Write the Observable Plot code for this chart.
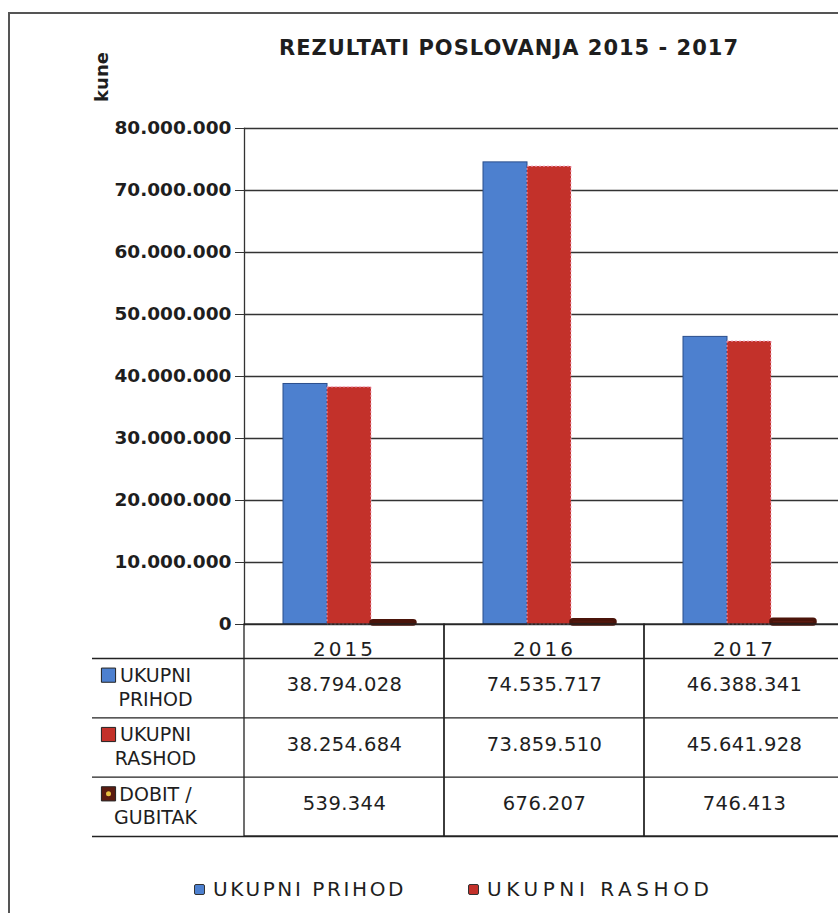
<!DOCTYPE html>
<html><head><meta charset="utf-8">
<script src="https://cdn.jsdelivr.net/npm/d3@7"></script>
<script src="https://cdn.jsdelivr.net/npm/@observablehq/plot@0.6"></script>
<style>
html,body{margin:0;padding:0;background:#fff;width:838px;height:913px;overflow:hidden;}
#wrap{position:relative;width:838px;height:913px;overflow:hidden;font-family:"DejaVu Sans",sans-serif;color:#1e1e1e;}
#border{position:absolute;left:8px;top:12px;width:1000px;height:1000px;border-left:2px solid #555;border-top:2px solid #555;}
#title{position:absolute;left:209px;top:36px;width:600px;text-align:center;font-weight:bold;font-size:21px;letter-spacing:1px;line-height:24px;}
#kune{position:absolute;left:101px;top:77px;transform:translate(-50%,-50%) rotate(-90deg);font-weight:bold;font-size:18px;}
#chart,#table{position:absolute;left:0;}
#chart{top:0;} #table{top:624px;}
svg{max-width:none !important;}
.spaced text{letter-spacing:0.4px;}
.wide text{letter-spacing:3px;}
.legend-item{position:absolute;top:877px;font-size:20px;letter-spacing:2.6px;display:flex;align-items:center;}
.legend-item.second{letter-spacing:4.6px;}
.legend-item .sw{width:9px;height:9px;border:1px solid #333;border-radius:2px;margin-right:8px;}
</style></head>
<body><div id="wrap">
<div id="border"></div>
<div id="title">REZULTATI POSLOVANJA 2015 - 2017</div>
<div id="kune">kune</div>
<div id="chart"></div>
<div id="table"></div>
<div id="legend"></div>
</div>
<script>
const years = ["2015", "2016", "2017"];
const seriesNames = ["UKUPNI PRIHOD", "UKUPNI RASHOD", "DOBIT / GUBITAK"];
const rowLabels = ["UKUPNI\nPRIHOD", "UKUPNI\nRASHOD", "DOBIT /\nGUBITAK"];
const prihod = [38794028, 74535717, 46388341];
const rashod = [38254684, 73859510, 45641928];
const dobit = [539344, 676207, 746413];
const yTicks = [0, 10000000, 20000000, 30000000, 40000000, 50000000, 60000000, 70000000, 80000000];
const colors = ["#4d80cf", "#c3312a", "#5b1b10"];

const loc = d3.formatLocale({decimal: ",", thousands: ".", grouping: [3], currency: ["", ""]});
const fmt = loc.format(",d");
const values = [prihod, rashod, dobit];
const rows = years.flatMap((year, j) => seriesNames.map((series, i) => ({year, series, value: values[i][j]})));
const bySeries = s => rows.filter(d => d.series === s);

const chart = Plot.plot({
  width: 845, height: 626,
  marginLeft: 243, marginRight: 0, marginTop: 128, marginBottom: 2,
  style: {fontFamily: "DejaVu Sans", background: "transparent", overflow: "visible", color: "#1e1e1e"},
  fx: {domain: years, padding: 0, axis: null},
  x: {domain: seriesNames, paddingInner: 0, paddingOuter: 0.73, align: 0.58, axis: null},
  y: {domain: [0, 80000000], axis: null},
  color: {domain: seriesNames, range: colors},
  marks: [
    Plot.ruleY(yTicks, {stroke: "#333", strokeWidth: 1.3}),
    Plot.frame({anchor: "left", facetAnchor: "left", stroke: "#333", strokeWidth: 1.3}),
    Plot.axisY({ticks: yTicks, tickFormat: fmt, tickSize: 9, tickPadding: 4, fontSize: 18.5, fontWeight: "bold", stroke: "#333", label: null}),
    Plot.barY(bySeries(seriesNames[0]), {fx: "year", x: "series", y: "value", fill: "series", stroke: "#2b4e8c", strokeWidth: 1}),
    Plot.barY(bySeries(seriesNames[1]), {fx: "year", x: "series", y: "value", fill: "series", stroke: "#f2a7c3", strokeWidth: 1, strokeDasharray: "2,2"}),
    Plot.barY(bySeries(seriesNames[2]), {fx: "year", x: "series", y: "value", fill: "series", stroke: "#4a140a", strokeWidth: 3.5, rx: 2})
  ]
});
document.getElementById("chart").append(chart);

const table = Plot.plot({
  width: 845, height: 213,
  marginLeft: 92, marginRight: 0, marginTop: 0, marginBottom: 1,
  style: {fontFamily: "DejaVu Sans", background: "transparent", overflow: "visible", color: "#1e1e1e"},
  x: {domain: years, range: [243, 845], padding: 0, axis: null},
  y: {domain: [0, 3], range: [34, 212], axis: null},
  color: {domain: seriesNames, range: colors},
  marks: [
    Plot.cell(years, {x: d => d, stroke: "#222", strokeWidth: 1.3, fill: "none"}),
    Plot.ruleY([0, 1, 2, 3], {stroke: "#222", strokeWidth: 1.3}),
    Plot.text(years, {x: d => d, frameAnchor: "top", dy: 17, fontSize: 20, className: "wide"}),
    Plot.text(rows, {x: "year", y: d => seriesNames.indexOf(d.series) + 0.5, dy: -3, text: d => fmt(d.value), fontSize: 19.5, className: "spaced"}),
    Plot.text(rowLabels, {y: (d, i) => i + 0.5, frameAnchor: "left", textAnchor: "middle", dx: 63, dy: -2, text: d => d, lineHeight: 1.25, fontSize: 19}),
    Plot.dot(seriesNames, {y: (d, i) => i + 0.5, frameAnchor: "left", dx: 16, dy: -13, symbol: "square", r: 8, fill: d => d, stroke: "#222", strokeWidth: 1}),
    Plot.dot([seriesNames[2]], {y: () => 2.5, frameAnchor: "left", dx: 16, dy: -13, r: 2.5, fill: "#e8c040"})
  ]
});
document.getElementById("table").append(table);

const legend = document.getElementById("legend");
[[seriesNames[0], 194, ""], [seriesNames[1], 468, " second"]].forEach(([name, left, cls]) => {
  const item = document.createElement("div");
  item.className = "legend-item" + cls;
  item.style.left = left + "px";
  const sw = document.createElement("span");
  sw.className = "sw";
  sw.style.background = colors[seriesNames.indexOf(name)];
  item.append(sw, document.createTextNode(name));
  legend.append(item);
});
</script>
</body></html>
